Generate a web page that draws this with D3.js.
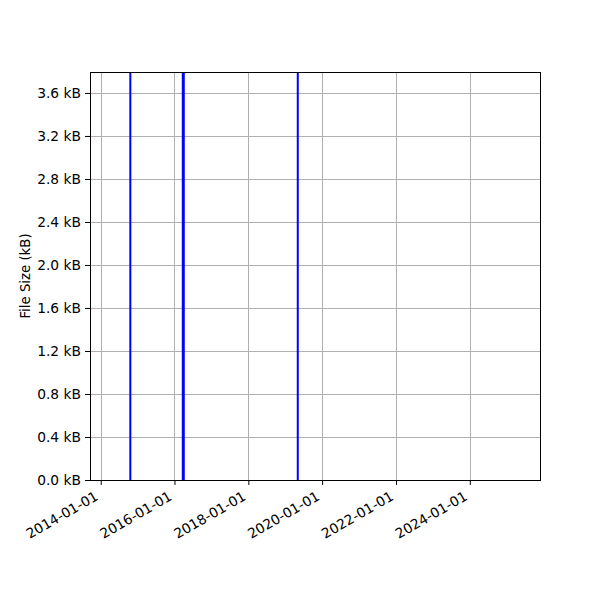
<!DOCTYPE html>
<html>
<head>
<meta charset="utf-8">
<script src="https://cdn.jsdelivr.net/npm/d3@7"></script>
<style>
  body { margin: 0; background: #fff; }
  svg { font-family: "DejaVu Sans", sans-serif; }
</style>
</head>
<body>
<svg width="600" height="600"></svg>
<script>
// commit dates and file sizes (kB); bars run past the top of the axes
var dates = ["2014-10-21", "2016-03-28", "2019-05-05"];
var sizes = [4.2, 4.2, 4.2];
var barWidths = [2, 3, 2];
var yTicks = [0, 0.4, 0.8, 1.2, 1.6, 2.0, 2.4, 2.8, 3.2, 3.6];
var xTicks = ["2014-01-01", "2016-01-01", "2018-01-01", "2020-01-01", "2022-01-01", "2024-01-01"];

var parse = d3.utcParse("%Y-%m-%d");
var svg = d3.select("svg");
var plotL = 90, plotR = 540, plotT = 72, plotB = 480;
var FONT = "DejaVu Sans, sans-serif";

var x = d3.scaleUtc()
    .domain([parse("2013-09-17"), parse("2025-11-26")])
    .range([plotL, plotR]);
var y = d3.scaleLinear()
    .domain([0, 3.795])
    .range([plotB, plotT]);

svg.append("defs").append("clipPath").attr("id", "clip")
    .append("rect").attr("x", plotL).attr("y", plotT)
    .attr("width", plotR - plotL).attr("height", plotB - plotT);

// grid
var grid = svg.append("g");
grid.selectAll(".gx").data(xTicks).enter().append("line")
    .attr("x1", d => Math.round(x(parse(d))) + 0.5).attr("x2", d => Math.round(x(parse(d))) + 0.5)
    .attr("y1", plotT).attr("y2", plotB)
    .attr("stroke", "#b0b0b0").attr("stroke-width", 1);
grid.selectAll(".gy").data(yTicks).enter().append("line")
    .attr("x1", plotL).attr("x2", plotR)
    .attr("y1", d => Math.round(y(d)) + 0.5).attr("y2", d => Math.round(y(d)) + 0.5)
    .attr("stroke", "#b0b0b0").attr("stroke-width", 1);

// bars
svg.append("g").attr("clip-path", "url(#clip)")
    .selectAll("rect").data(dates).enter().append("rect")
    .attr("x", (d, i) => x(parse(d)) - barWidths[i] / 2)
    .attr("width", (d, i) => barWidths[i])
    .attr("y", (d, i) => y(sizes[i]))
    .attr("height", (d, i) => y(0) - y(sizes[i]))
    .attr("fill", "#0000ff");

// axes
var xAxis = svg.append("g")
    .attr("transform", "translate(0," + plotB + ")")
    .call(d3.axisBottom(x)
        .tickValues(xTicks.map(parse))
        .tickFormat(d3.utcFormat("%Y-%m-%d"))
        .tickSize(5).tickPadding(3));
xAxis.attr("font-family", FONT).attr("font-size", 13.8);
xAxis.select(".domain").remove();
xAxis.selectAll("text")
    .attr("fill", "#000")
    .attr("text-anchor", "end")
    .attr("dy", null)
    .attr("y", 0)
    .attr("transform", "translate(-2,19) rotate(-30)");
xAxis.selectAll(".tick line").attr("stroke", "#000");

var yAxis = svg.append("g")
    .attr("transform", "translate(" + plotL + ",0)")
    .call(d3.axisLeft(y)
        .tickValues(yTicks)
        .tickFormat(d => d3.format(".1f")(d) + " kB")
        .tickSize(5).tickPadding(4));
yAxis.attr("font-family", FONT).attr("font-size", 13.8);
yAxis.select(".domain").remove();
yAxis.selectAll("text").attr("fill", "#000");
yAxis.selectAll(".tick line").attr("stroke", "#000");

svg.append("rect")
    .attr("x", plotL + 0.5).attr("y", plotT + 0.5)
    .attr("width", plotR - plotL).attr("height", plotB - plotT)
    .attr("fill", "none").attr("stroke", "#000").attr("stroke-width", 1);

svg.append("text")
    .attr("transform", "translate(30," + (plotT + plotB) / 2 + ") rotate(-90)")
    .attr("text-anchor", "middle")
    .attr("font-size", 13.3)
    .text("File Size (kB)");
</script>
</body>
</html>
